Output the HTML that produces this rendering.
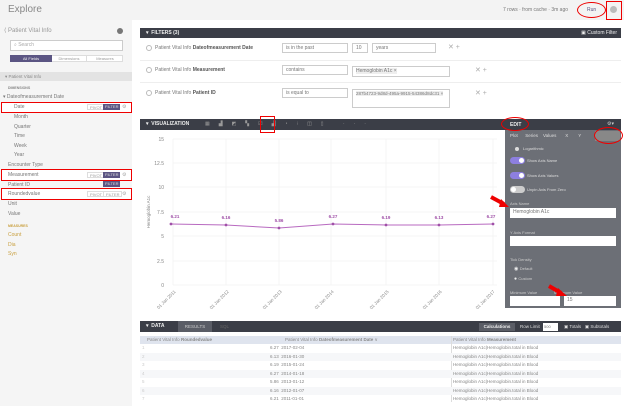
<!DOCTYPE html><html><head><style>
*{margin:0;padding:0;box-sizing:border-box}
body{width:624px;height:406px;overflow:hidden;background:#fff;font-family:"Liberation Sans",sans-serif;position:relative;color:#666}
.a{position:absolute;white-space:nowrap}
.s{font-size:5px;color:#777}
.red{position:absolute;border:1.5px solid #e00}
.ell{position:absolute;border:1.5px solid #e00;border-radius:50%}
.bar{position:absolute;background:#3b3e47;color:#eee;font-size:5px;font-weight:bold}
.inp{position:absolute;border:1px solid #ccc;background:#fff;font-size:5px;color:#777;padding:1px 3px}
.btn{position:absolute;font-size:4px;color:#999;border:1px solid #ddd;background:#fff;padding:0 2px;height:6px;line-height:5px}
.fl{position:absolute;font-size:4px;background:#5b5583;color:#ddd;padding:0 2px;height:6px;line-height:6px}
.tr{position:absolute;left:140px;width:481px;height:8.5px;font-size:4.5px;color:#888;line-height:8.5px}
</style></head><body>
<div class="a" style="left:0;top:0;width:624px;height:20px;background:#f3f3f3"></div>
<div class="a" style="left:8px;top:4px;font-size:10px;color:#888">Explore</div>
<div class="a s" style="left:503px;top:7px">7 rows · from cache · 3m ago</div>
<div class="a" style="left:587px;top:7px;font-size:5px;color:#5b5583">Run</div>
<div class="ell" style="left:577px;top:2px;width:29px;height:16px"></div>
<div class="a" style="left:610px;top:6px;width:7px;height:7px;border-radius:50%;background:#bbb"></div>
<div class="red" style="left:606px;top:1px;width:16px;height:19px"></div>
<!-- sidebar -->
<div class="a" style="left:0;top:20px;width:132px;height:386px;background:#f5f5f5"></div>
<div class="a s" style="left:4px;top:27px;font-size:6px;color:#999">⟨ Patient Vital Info</div>
<div class="a" style="left:117px;top:28px;width:6px;height:6px;border-radius:50%;background:#777"></div>
<div class="inp" style="left:10px;top:40px;width:113px;height:11px;color:#aaa">⌕ Search</div>
<div class="a" style="left:10px;top:55px;width:113px;height:7px;border:1px solid #ddd;background:#fff"></div>
<div class="a" style="left:10px;top:55px;width:42px;height:7px;background:#5b5583;color:#eee;font-size:4px;text-align:center;line-height:7px">All Fields</div>
<div class="a" style="left:52px;top:55px;width:34px;height:7px;font-size:4px;text-align:center;line-height:7px;color:#999">Dimensions</div>
<div class="a" style="left:86px;top:55px;width:37px;height:7px;font-size:4px;text-align:center;line-height:7px;color:#999;border-left:1px solid #ddd">Measures</div>
<div class="a" style="left:0;top:72px;width:132px;height:9px;background:#e3e3e3;font-size:4.5px;line-height:9px;padding-left:5px;color:#888">▾ Patient Vital Info</div>
<div class="a" style="left:8px;top:86px;font-size:3.5px;color:#888;font-weight:bold">DIMENSIONS</div>
<div class="a s" style="left:3px;top:94px">▾ Dateofmeasurement Date</div>
<div class="a" style="left:1px;top:103px;width:131px;height:9px;background:#fff"></div>
<div class="a s" style="left:14px;top:104px">Date</div>
<div class="a s" style="left:14px;top:114px">Month</div>
<div class="a s" style="left:14px;top:124px">Quarter</div>
<div class="a s" style="left:14px;top:133px">Time</div>
<div class="a s" style="left:14px;top:143px">Week</div>
<div class="a s" style="left:14px;top:152px">Year</div>
<div class="a s" style="left:8px;top:162px">Encounter Type</div>
<div class="a" style="left:1px;top:170px;width:131px;height:10px;background:#fff"></div>
<div class="a s" style="left:8px;top:172px">Measurement</div>
<div class="a s" style="left:8px;top:182px">Patient ID</div>
<div class="a" style="left:1px;top:189px;width:131px;height:10px;background:#fff"></div>
<div class="a s" style="left:8px;top:191px">Roundedvalue</div>
<div class="a s" style="left:8px;top:201px">Unit</div>
<div class="a s" style="left:8px;top:211px">Value</div>
<div class="a" style="left:8px;top:224px;font-size:3.5px;color:#c9a040;font-weight:bold">MEASURES</div>
<div class="a s" style="left:8px;top:232px;color:#c9a040">Count</div>
<div class="a s" style="left:8px;top:242px;color:#c9a040">Dia</div>
<div class="a s" style="left:8px;top:251px;color:#c9a040">Syn</div>
<div class="btn" style="left:87px;top:104px">PIVOT</div><div class="fl" style="left:103px;top:104px">FILTER</div><div class="a" style="left:122px;top:104px;font-size:5px;color:#aaa">⚙</div>
<div class="btn" style="left:87px;top:172px">PIVOT</div><div class="fl" style="left:103px;top:172px">FILTER</div><div class="a" style="left:122px;top:172px;font-size:5px;color:#aaa">⚙</div>
<div class="fl" style="left:103px;top:181px">FILTER</div>
<div class="btn" style="left:87px;top:191px">PIVOT</div><div class="btn" style="left:103px;top:191px">FILTER</div><div class="a" style="left:122px;top:191px;font-size:5px;color:#aaa">⚙</div>
<div class="red" style="left:1px;top:102px;width:131px;height:11px"></div>
<div class="red" style="left:1px;top:169px;width:131px;height:12px"></div>
<div class="red" style="left:1px;top:188px;width:131px;height:12px"></div>
<!-- filters -->
<div class="bar" style="left:140px;top:28px;width:481px;height:10px;line-height:10px;padding-left:6px">▾ &nbsp;FILTERS (3)<span style="position:absolute;right:4px;font-weight:normal">▣ Custom Filter</span></div>
<div class="a" style="left:146px;top:45px;width:6px;height:6px;border-radius:50%;border:1px solid #bbb"></div>
<div class="a s" style="left:155px;top:45px">Patient Vital Info <b style="color:#555">Dateofmeasurement Date</b></div>
<div class="inp" style="left:282px;top:43px;width:66px;height:10px">is in the past</div>
<div class="inp" style="left:352px;top:43px;width:16px;height:10px">10</div>
<div class="inp" style="left:372px;top:43px;width:64px;height:10px">years</div>
<div class="a" style="left:448px;top:43px;font-size:7px;color:#aaa">✕ +</div>
<div class="a" style="left:422px;top:73px;font-size:7px;color:#aaa"></div>
<div class="a" style="left:140px;top:60px;width:481px;border-top:1px solid #eee"></div>
<div class="a" style="left:146px;top:67px;width:6px;height:6px;border-radius:50%;border:1px solid #bbb"></div>
<div class="a s" style="left:155px;top:67px">Patient Vital Info <b style="color:#555">Measurement</b></div>
<div class="inp" style="left:282px;top:65px;width:66px;height:10px">contains</div>
<div class="inp" style="left:352px;top:66px;width:98px;height:11px"><span style="background:#eee">Hemoglobin A1c ×</span></div>
<div class="a" style="left:475px;top:66px;font-size:7px;color:#aaa">✕ +</div>
<div class="a" style="left:140px;top:82px;width:481px;border-top:1px solid #eee"></div>
<div class="a" style="left:146px;top:90px;width:6px;height:6px;border-radius:50%;border:1px solid #bbb"></div>
<div class="a s" style="left:155px;top:90px">Patient Vital Info <b style="color:#555">Patient ID</b></div>
<div class="inp" style="left:282px;top:88px;width:66px;height:10px">is equal to</div>
<div class="inp" style="left:352px;top:89px;width:98px;height:19px"><span style="background:#eee;font-size:4.5px">287b4723-9d8d-495a-9915-54386d8dc31 ×</span></div>
<div class="a" style="left:475px;top:89px;font-size:7px;color:#aaa">✕ +</div>
<!-- viz bar -->
<div class="bar" style="left:140px;top:119px;width:481px;height:11px;line-height:11px;padding-left:6px">▾ &nbsp;VISUALIZATION<span style="position:absolute;left:65px;color:#999;font-weight:normal;letter-spacing:9px">▦▟◩▚☑▟◔⁝◫▯ ···</span></div>
<div class="red" style="left:260px;top:116px;width:15px;height:17px"></div>
<!-- chart -->
<svg class="a" style="left:140px;top:131px" width="365" height="188">
<g stroke="#eee" stroke-width="0.6">
<line x1="33" y1="8" x2="357" y2="8"/><line x1="33" y1="32" x2="357" y2="32"/><line x1="33" y1="56" x2="357" y2="56"/><line x1="33" y1="81" x2="357" y2="81"/><line x1="33" y1="105" x2="357" y2="105"/><line x1="33" y1="130" x2="357" y2="130"/><line x1="33" y1="154" x2="357" y2="154"/>
<line x1="33" y1="8" x2="33" y2="154"/><line x1="86" y1="8" x2="86" y2="154"/><line x1="139" y1="8" x2="139" y2="154"/><line x1="191" y1="8" x2="191" y2="154"/><line x1="246" y1="8" x2="246" y2="154"/><line x1="299" y1="8" x2="299" y2="154"/><line x1="353" y1="8" x2="353" y2="154"/>
</g>
<g font-size="5" fill="#888" text-anchor="end" font-family="Liberation Sans">
<text x="24" y="10">15</text><text x="24" y="34">12.5</text><text x="24" y="58">10</text><text x="24" y="83">7.5</text><text x="24" y="107">5</text><text x="24" y="132">2.5</text><text x="24" y="156">0</text>
</g>
<text x="10" y="81" font-size="4.5" fill="#888" transform="rotate(-90 10 81)" text-anchor="middle">Hemoglobin A1c</text>
<polyline fill="none" stroke="#b86ac0" stroke-width="1" points="31,93 86,94 139,97 193,93 246,94 299,94 353,93"/>
<g fill="#a050a8"><circle cx="31" cy="93" r="1.4"/><circle cx="86" cy="94" r="1.4"/><circle cx="139" cy="97" r="1.4"/><circle cx="193" cy="93" r="1.4"/><circle cx="246" cy="94" r="1.4"/><circle cx="299" cy="94" r="1.4"/><circle cx="353" cy="93" r="1.4"/></g>
<g font-size="4.5" fill="#a050a8" font-weight="bold" text-anchor="middle" font-family="Liberation Sans">
<text x="35" y="87">6.21</text><text x="86" y="88">6.16</text><text x="139" y="91">5.86</text><text x="193" y="87">6.27</text><text x="246" y="88">6.19</text><text x="299" y="88">6.13</text><text x="351" y="87">6.27</text>
</g>
<g font-size="4.5" fill="#888" text-anchor="end" font-family="Liberation Sans">
<text transform="translate(36 161) rotate(-45)">01 Jan 2011</text><text transform="translate(89 161) rotate(-45)">01 Jan 2012</text><text transform="translate(142 161) rotate(-45)">01 Jan 2013</text><text transform="translate(194 161) rotate(-45)">01 Jan 2014</text><text transform="translate(249 161) rotate(-45)">01 Jan 2015</text><text transform="translate(302 161) rotate(-45)">01 Jan 2016</text><text transform="translate(355 161) rotate(-45)">01 Jan 2017</text>
</g>
</svg>
<!-- edit panel -->
<div class="a" style="left:505px;top:119px;width:116px;height:11px;background:#3b3e47"></div>
<div class="a" style="left:505px;top:130px;width:116px;height:178px;background:#6c6f76"></div>
<div class="a" style="left:510px;top:122px;font-size:5px;color:#eee;font-weight:bold">EDIT</div>
<div class="a" style="left:607px;top:121px;font-size:5px;color:#ccc">⚙▾</div>
<div class="ell" style="left:501px;top:117px;width:28px;height:14px"></div>
<div class="a" style="left:595px;top:131px;width:25px;height:10px;background:#888"></div>
<div class="a" style="left:510px;top:133px;font-size:4.5px;color:#ddd;word-spacing:0">Plot &nbsp;&nbsp;&nbsp;&nbsp;&nbsp;Series &nbsp;&nbsp;&nbsp;Values &nbsp;&nbsp;&nbsp;&nbsp;&nbsp;&nbsp;X &nbsp;&nbsp;&nbsp;&nbsp;&nbsp;&nbsp;&nbsp;Y</div>
<div class="ell" style="left:594px;top:127px;width:29px;height:17px"></div>
<div class="a" style="left:515px;top:147px;width:4px;height:4px;border-radius:50%;background:#ddd"></div>
<div class="a" style="left:523px;top:146px;font-size:4px;color:#ddd">Logarithmic</div>
<div class="a" style="left:510px;top:157px;width:15px;height:7px;border-radius:4px;background:#8d7fe0"></div><div class="a" style="left:519px;top:158px;width:5px;height:5px;border-radius:50%;background:#fff"></div>
<div class="a" style="left:527px;top:158px;font-size:4px;color:#ddd">Show Axis Name</div>
<div class="a" style="left:510px;top:172px;width:15px;height:7px;border-radius:4px;background:#8d7fe0"></div><div class="a" style="left:519px;top:173px;width:5px;height:5px;border-radius:50%;background:#fff"></div>
<div class="a" style="left:527px;top:173px;font-size:4px;color:#ddd">Show Axis Values</div>
<div class="a" style="left:510px;top:186px;width:15px;height:7px;border-radius:4px;background:#ccc"></div><div class="a" style="left:511px;top:187px;width:5px;height:5px;border-radius:50%;background:#fff"></div>
<div class="a" style="left:527px;top:187px;font-size:4px;color:#ddd">Unpin Axis From Zero</div>
<div class="a" style="left:510px;top:201px;font-size:4px;color:#ccc">Axis Name</div>
<div class="inp" style="left:510px;top:208px;width:106px;height:10px;border:none">Hemoglobin A1c</div>
<div class="a" style="left:510px;top:230px;font-size:4px;color:#ccc">Y Axis Format</div>
<div class="inp" style="left:510px;top:236px;width:106px;height:10px;border:none"></div>
<div class="a" style="left:510px;top:257px;font-size:4px;color:#ccc">Tick Density</div>
<div class="a" style="left:514px;top:266px;font-size:5px;color:#eee">◉ <span style="font-size:4px;color:#ccc">Default</span></div>
<div class="a" style="left:514px;top:276px;font-size:5px;color:#eee">● <span style="font-size:4px;color:#ccc">Custom</span></div>
<div class="a" style="left:510px;top:290px;font-size:4px;color:#ccc">Minimum Value &nbsp;&nbsp;&nbsp;&nbsp;&nbsp;&nbsp;&nbsp;&nbsp;&nbsp;&nbsp;&nbsp;&nbsp;&nbsp;&nbsp;Maximum Value</div>
<div class="inp" style="left:510px;top:296px;width:50px;height:10px;border:none"></div>
<div class="inp" style="left:564px;top:296px;width:52px;height:10px;border:none">15</div>
<svg class="a" style="left:490px;top:194px" width="20" height="14"><path d="M1 3 L14 10" stroke="#e00" stroke-width="4"/><path d="M11 5 L19 13 L9 13Z" fill="#e00"/></svg>
<svg class="a" style="left:548px;top:283px" width="20" height="14"><path d="M1 3 L13 10" stroke="#e00" stroke-width="4"/><path d="M10 5 L19 13 L8 13Z" fill="#e00"/></svg>
<!-- data bar -->
<div class="bar" style="left:140px;top:321px;width:481px;height:11px;line-height:11px;padding-left:6px">▾ &nbsp;DATA</div>
<div class="a" style="left:178px;top:321px;width:34px;height:11px;background:#5a5d66;font-size:4.5px;color:#ccc;text-align:center;line-height:11px">RESULTS</div>
<div class="a" style="left:220px;top:324px;font-size:4.5px;color:#666">SQL</div>
<div class="a" style="left:479px;top:323px;width:36px;height:8px;background:#5a5d66;font-size:4.5px;color:#eee;text-align:center;line-height:8px;font-weight:bold">Calculations</div>
<div class="a" style="left:520px;top:324px;font-size:4.5px;color:#ddd">Row Limit</div>
<div class="a" style="left:543px;top:323px;width:15px;height:8px;background:#fff;font-size:4px;color:#777;line-height:8px;padding-left:1px">500</div>
<div class="a" style="left:564px;top:324px;font-size:4.5px;color:#ddd">▣ Totals &nbsp;&nbsp;▣ Subtotals</div>
<div class="tr" style="top:336px;background:#dfe4ee;height:8px;line-height:8px"><span class="a" style="left:7px">Patient Vital Info <b>Roundedvalue</b></span><span class="a" style="left:145px">Patient Vital Info <b>Dateofmeasurement Date</b> ∨</span><span class="a" style="left:313px">Patient Vital Info <b>Measurement</b></span></div>
<div class="a" style="left:451px;top:336px;height:66px;border-left:1px solid #ddd"></div>
<div class="tr" style="top:344px"><span class="a" style="left:2px;color:#ccc">1</span><span class="a" style="left:130px">6.27 &nbsp;2017-02-04</span><span class="a" style="left:313px">Hemoglobin A1c|Hemoglobin.total in Blood</span></div>
<div class="tr" style="top:352.5px;background:#f6f7f9"><span class="a" style="left:2px;color:#ccc">2</span><span class="a" style="left:130px">6.13 &nbsp;2016-01-30</span><span class="a" style="left:313px">Hemoglobin A1c|Hemoglobin.total in Blood</span></div>
<div class="tr" style="top:361px"><span class="a" style="left:2px;color:#ccc">3</span><span class="a" style="left:130px">6.19 &nbsp;2015-01-24</span><span class="a" style="left:313px">Hemoglobin A1c|Hemoglobin.total in Blood</span></div>
<div class="tr" style="top:369.5px;background:#f6f7f9"><span class="a" style="left:2px;color:#ccc">4</span><span class="a" style="left:130px">6.27 &nbsp;2014-01-18</span><span class="a" style="left:313px">Hemoglobin A1c|Hemoglobin.total in Blood</span></div>
<div class="tr" style="top:378px"><span class="a" style="left:2px;color:#ccc">5</span><span class="a" style="left:130px">5.86 &nbsp;2013-01-12</span><span class="a" style="left:313px">Hemoglobin A1c|Hemoglobin.total in Blood</span></div>
<div class="tr" style="top:386.5px;background:#f6f7f9"><span class="a" style="left:2px;color:#ccc">6</span><span class="a" style="left:130px">6.16 &nbsp;2012-01-07</span><span class="a" style="left:313px">Hemoglobin A1c|Hemoglobin.total in Blood</span></div>
<div class="tr" style="top:395px"><span class="a" style="left:2px;color:#ccc">7</span><span class="a" style="left:130px">6.21 &nbsp;2011-01-01</span><span class="a" style="left:313px">Hemoglobin A1c|Hemoglobin.total in Blood</span></div>
</body></html>
